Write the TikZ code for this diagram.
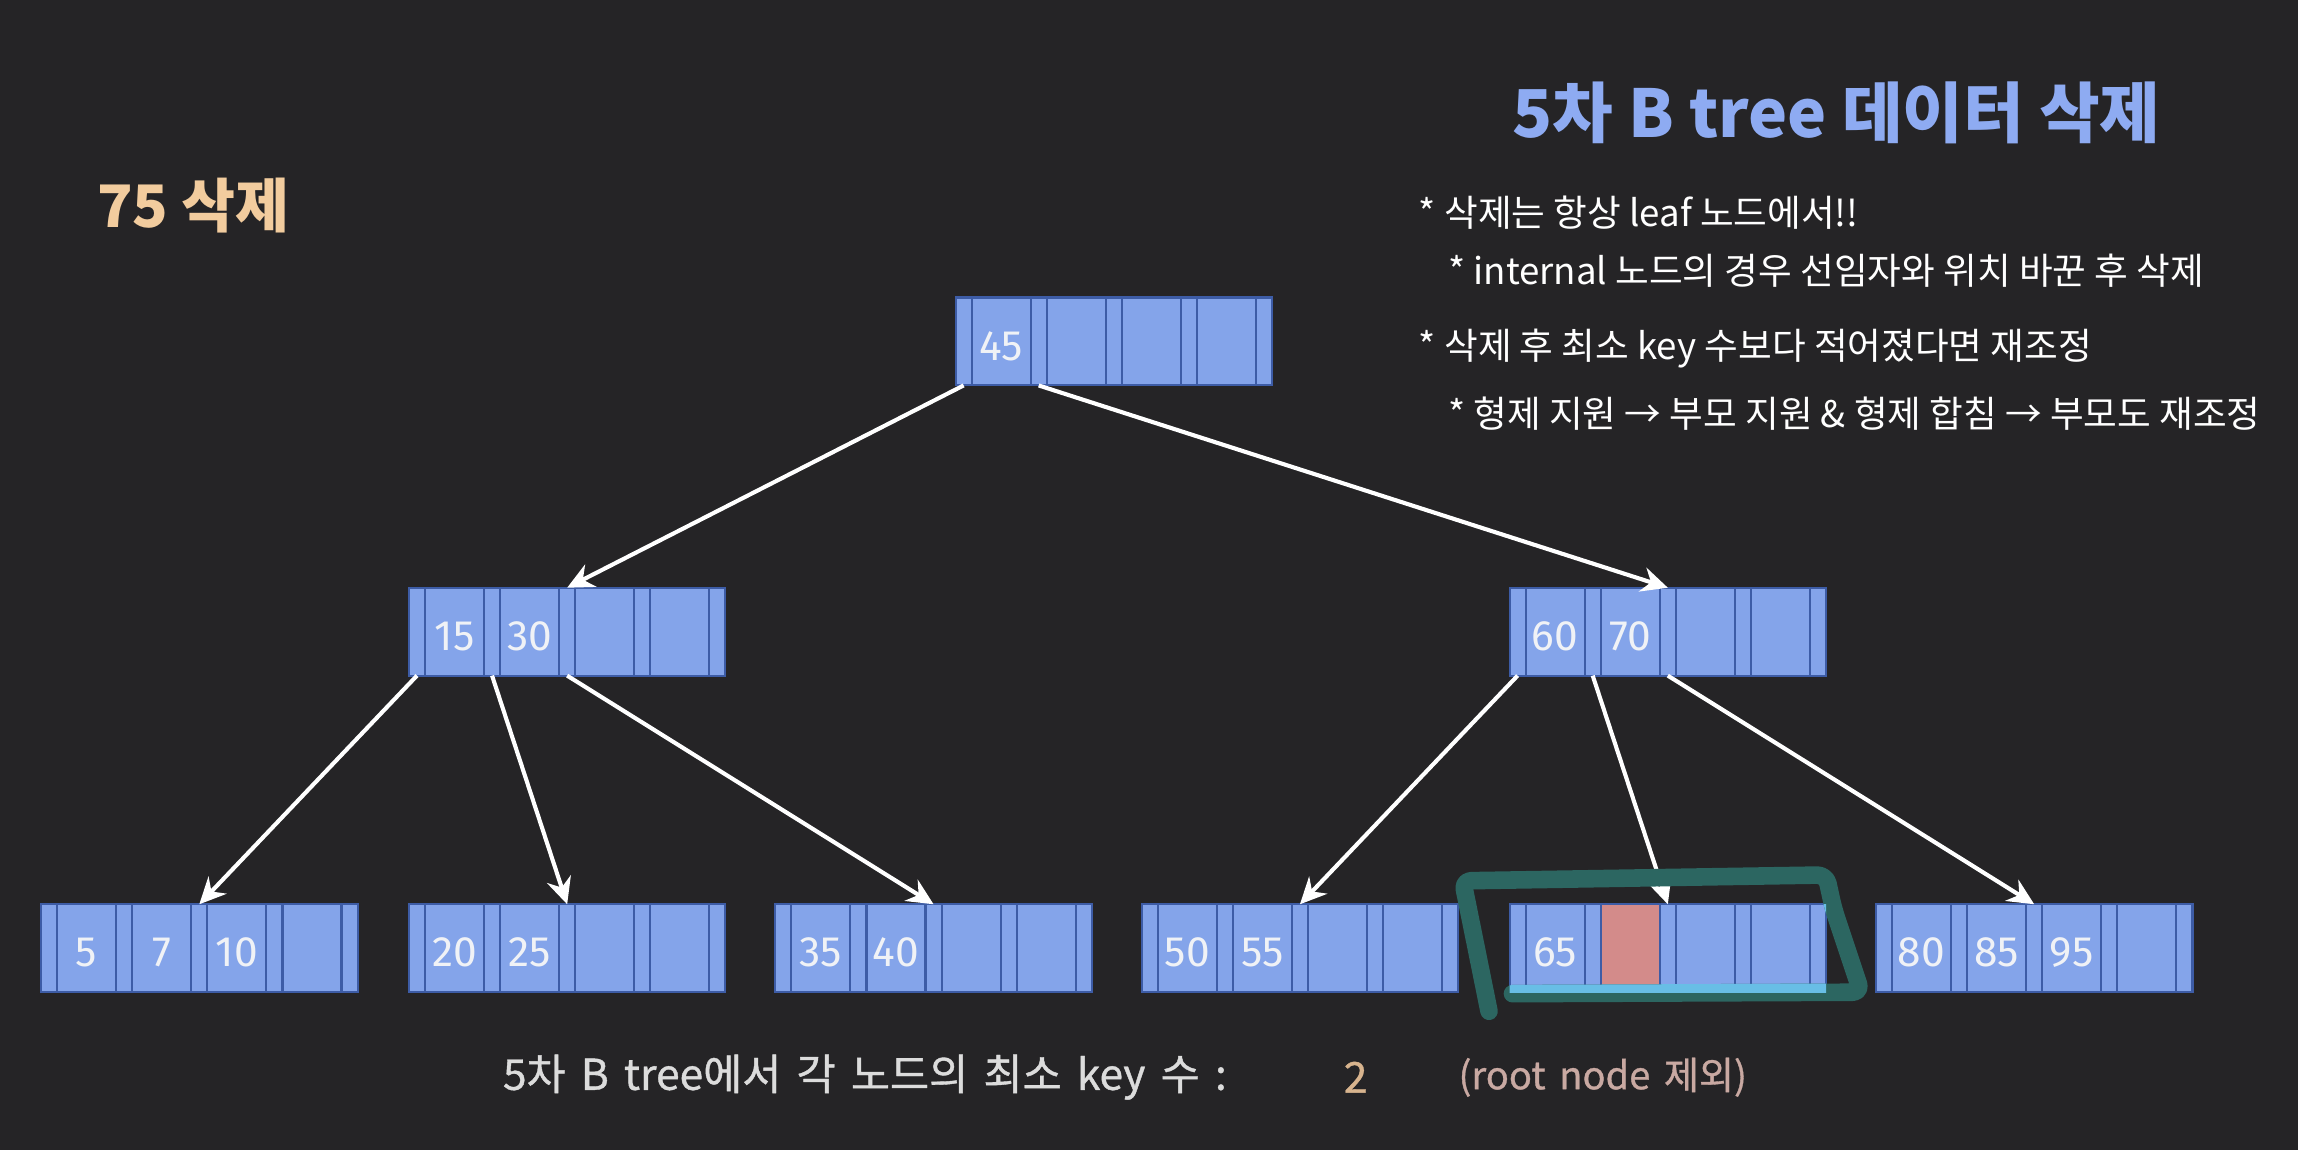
\documentclass[tikz,border=0pt]{standalone}
\usepackage{fontspec}
\setmainfont{Noto Sans CJK KR}
\newfontfamily\krmed[FakeBold=0.9]{Noto Sans CJK KR}
\newfontfamily\krwide[FakeBold=0.9,WordSpace=1.6]{Noto Sans CJK KR}
\newfontfamily\numfont{Fira Sans}
\usetikzlibrary{arrows.meta}
\definecolor{bg}{HTML}{252426}
\definecolor{nodefill}{HTML}{84A4EA}
\definecolor{nodeline}{HTML}{3D5CA6}
\definecolor{delcell}{HTML}{D38B8A}
\definecolor{titleblue}{HTML}{8EABF2}
\definecolor{peach}{HTML}{F2CC9E}
\definecolor{tannum}{HTML}{D8B48E}
\definecolor{rosetan}{HTML}{C9A9A2}
\definecolor{hlteal}{HTML}{2C6661}
\definecolor{hlcyan}{HTML}{68BEE6}
\definecolor{txtgray}{HTML}{DCDCDC}
\definecolor{keywhite}{HTML}{F0F2F6}
\tikzset{
  bnode/.style={draw=nodeline, fill=nodefill, line width=1.4pt, minimum width=216pt,
    minimum height=60pt, inner sep=0pt, outer sep=0pt, anchor=north west},
  sepline/.style={draw=nodeline, line width=1.4pt},
  keytxt/.style={font=\numfont\fontsize{29}{31}\selectfont, text=keywhite, inner sep=0pt},
  arr/.style={draw=white, line width=2.8pt, -{Stealth[length=18pt,width=17pt,inset=6pt]}},
  bullet/.style={font=\fontsize{25}{29}\selectfont, text=white, inner sep=0pt, anchor=west},
  bottomtxt/.style={font=\krmed\fontsize{26}{30}\selectfont, inner sep=0pt, anchor=west},
  hl/.style={line width=12pt, line cap=round, line join=round, rounded corners=6pt},
}
\newcommand\btreenode[4]{%
  \node[bnode] (#1) at (#2,#3) {};
  \foreach \j in {0,1,2,3}{
    \draw[sepline] (#2+11+\j*51.25,#3) -- (#2+11+\j*51.25,#3+60);
    \draw[sepline] (#2+51.25+\j*51.25,#3) -- (#2+51.25+\j*51.25,#3+60);
  }
  \foreach \k [count=\j from 0] in {#4}{
    \node[keytxt] (#1-k\j) at (#2+31.1+\j*51.25,#3+33) {\k};
  }
  \foreach \i in {0,...,4}{
    \coordinate (#1-t\i) at (#2+5.5+\i*51.25,#3);
    \coordinate (#1-b\i) at (#2+5.5+\i*51.25,#3+60);
  }
}
\newcommand\hlpath{(1016,690) -- (998,601) -- (1246,597) -- (1251,620) -- (1270,677) -- (1032,678)}
\begin{document}
\begin{tikzpicture}[x=1pt,y=-1pt]
\fill[bg] (0,0) rectangle (1568,785);
\useasboundingbox (0,0) rectangle (1568,785);

% tree nodes
\btreenode{root}{652}{203}{45}
\btreenode{na}{279}{401}{15,30}
\btreenode{nb}{1030}{401}{60,70}
\btreenode{l1}{28}{617}{5,7,10}
\btreenode{l2}{279}{617}{20,25}
\btreenode{l3}{529}{617}{35,40}
\btreenode{l4}{779}{617}{50,55}
\btreenode{l5}{1030}{617}{65}
\btreenode{l6}{1280}{617}{80,85,95}

% deleted key cell
\fill[delcell] (1030+62.25,617.7) rectangle (1030+102.5,676.3);
\draw[sepline] (1030+62.25,617) -- (1030+62.25,677);
\draw[sepline] (1030+102.5,617) -- (1030+102.5,677);

% connectors
\draw[arr] (root-b0) -- (na-t2);
\draw[arr] (root-b1) -- (nb-t2);
\draw[arr] (na-b0) -- (l1-t2);
\draw[arr] (na-b1) -- (l2-t2);
\draw[arr] (na-b2) -- (l3-t2);
\draw[arr] (nb-b0) -- (l4-t2);
\draw[arr] (nb-b1) -- (l5-t2);
\draw[arr] (nb-b2) -- (l6-t2);

% highlight
\draw[hl, draw=hlteal] \hlpath;
\begin{scope}
  \clip (1030,617) rectangle (1246,677);
  \draw[hl, draw=hlcyan] \hlpath;
\end{scope}

% texts
\node[font=\bfseries\fontsize{45}{50}\selectfont, text=titleblue, inner sep=0pt] (title) at (1253,77) {5차 B tree 데이터 삭제};
\node[font=\bfseries\fontsize{40}{44}\selectfont, text=peach, inner sep=0pt, anchor=west] (del) at (66,140) {75 삭제};
\node[bullet] (b1) at (968,145) {* 삭제는 항상 leaf 노드에서!!};
\node[bullet] (b2) at (988,185) {* internal 노드의 경우 선임자와 위치 바꾼 후 삭제};
\node[bullet] (b3) at (968,238) {* 삭제 후 최소 key 수보다 적어졌다면 재조정};
\node[bullet] (b4) at (988,282) {* 형제 지원 → 부모 지원 \& 형제 합침 → 부모도 재조정};
\node[bottomtxt, font=\krwide\fontsize{29}{32}\selectfont, text=txtgray] (minkey) at (343,735) {5차 B tree에서 각 노드의 최소 key 수 :};
\node[bottomtxt, font=\krmed\fontsize{29}{32}\selectfont, text=tannum, anchor=center] (two) at (925,735) {2};
\node[bottomtxt, text=rosetan] (note) at (995,735) {(root node 제외)};
\end{tikzpicture}
\end{document}
